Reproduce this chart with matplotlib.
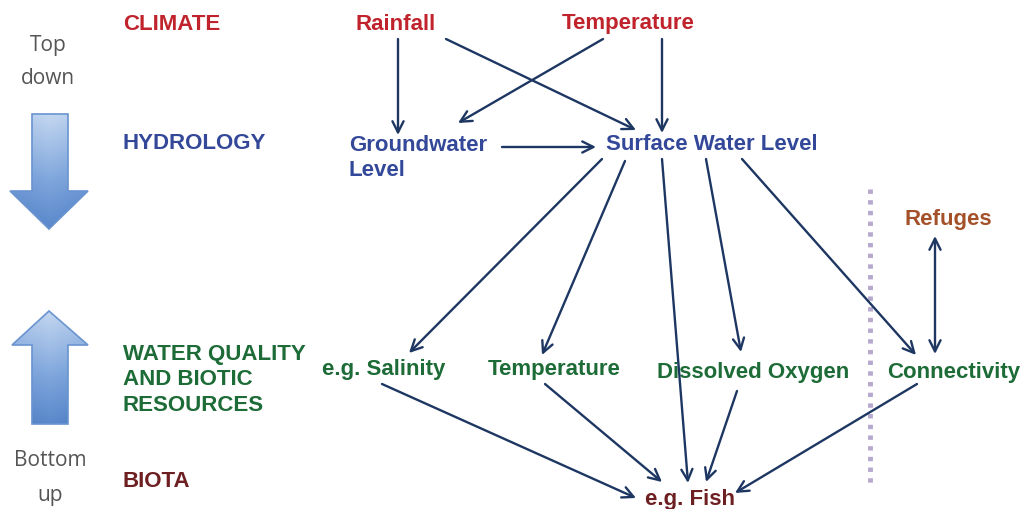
import numpy as np
import matplotlib.pyplot as plt
from matplotlib.patches import Polygon
from matplotlib.colors import LinearSegmentedColormap

# level labels (left column)
levels = ["CLIMATE", "HYDROLOGY", "WATER QUALITY\nAND BIOTIC\nRESOURCES", "BIOTA"]
level_colors = ["#C0232C", "#34489A", "#1D6B36", "#6E1F22"]

# nodes of the diagram
nodes = ["Rainfall", "Temperature", "Groundwater\nLevel", "Surface Water Level",
         "Refuges", "e.g. Salinity", "Temperature ", "Dissolved Oxygen",
         "Connectivity", "e.g. Fish"]
node_colors = ["#C0232C", "#C0232C", "#34489A", "#34489A", "#A4512A",
               "#1D6B36", "#1D6B36", "#1D6B36", "#1D6B36", "#6E1F22"]

# causal links (from, to)
edges = [("Rainfall", "Groundwater\nLevel"),
         ("Rainfall", "Surface Water Level"),
         ("Temperature", "Groundwater\nLevel"),
         ("Temperature", "Surface Water Level"),
         ("Groundwater\nLevel", "Surface Water Level"),
         ("Surface Water Level", "e.g. Salinity"),
         ("Surface Water Level", "Temperature "),
         ("Surface Water Level", "e.g. Fish"),
         ("Surface Water Level", "Dissolved Oxygen"),
         ("Surface Water Level", "Connectivity"),
         ("e.g. Salinity", "e.g. Fish"),
         ("Temperature ", "e.g. Fish"),
         ("Dissolved Oxygen", "e.g. Fish"),
         ("Connectivity", "e.g. Fish")]
two_way = [("Refuges", "Connectivity")]

# ---- layout (pixel coordinates, y down) ----
level_pos = [(123, 24), (123, 144), (123, 380), (123, 482)]
node_pos = {"Rainfall": (396, 24), "Temperature": (628, 24),
            "Groundwater\nLevel": (349, 158), "Surface Water Level": (606, 145),
            "Refuges": (948, 220), "e.g. Salinity": (384, 370),
            "Temperature ": (554, 370), "Dissolved Oxygen": (753, 373),
            "Connectivity": (954, 373), "e.g. Fish": (690, 500)}
node_ha = {"Groundwater\nLevel": "left", "Surface Water Level": "left"}
edge_pts = [((398, 40), (398, 136)), ((446, 40), (636, 131)),
            ((603, 40), (458, 124)), ((662, 40), (662, 134)),
            ((502, 148), (596, 148)), ((602, 160), (409, 354)),
            ((625, 162), (542, 356)), ((662, 160), (688, 484)),
            ((706, 160), (741, 353)), ((742, 160), (916, 356)),
            ((382, 385), (636, 499)), ((545, 385), (662, 483)),
            ((737, 392), (706, 483)), ((917, 385), (735, 494))]
two_way_pts = [((935, 237), (935, 355))]

navy = "#1D3762"
W, H = 1022, 510

fig = plt.figure(figsize=(W / 100, H / 100), dpi=100)
ax = fig.add_axes([0, 0, 1, 1])
ax.set_xlim(0, W)
ax.set_ylim(H, 0)
ax.axis("off")

bold = dict(family="Liberation Sans", fontweight="bold", fontsize=16)

for lab, col, (x, y) in zip(levels, level_colors, level_pos):
    ax.text(x, y, lab, color=col, ha="left", va="center", linespacing=1.27, **bold)

for lab, col in zip(nodes, node_colors):
    x, y = node_pos[lab]
    ax.text(x, y, lab.strip(), color=col, ha=node_ha.get(lab, "center"),
            va="center", linespacing=1.27, **bold)

for (a, b), (t, h) in zip(edges, edge_pts):
    ax.annotate("", xy=h, xytext=t,
                arrowprops=dict(arrowstyle="->", color=navy, lw=1.7,
                                mutation_scale=20, shrinkA=0, shrinkB=0))
for (a, b), (t, h) in zip(two_way, two_way_pts):
    ax.annotate("", xy=h, xytext=t,
                arrowprops=dict(arrowstyle="<->", color=navy, lw=1.7,
                                mutation_scale=20, shrinkA=0, shrinkB=0))

# divider
ax.plot([870, 870], [190, 488], color="#B7A8CE", lw=3.5,
        linestyle=(0, (0.9, 1.3)), solid_capstyle="butt")

# top-down / bottom-up labels
light = dict(family="Open Sans", fontsize=15, color="#555555", ha="center", va="center")
ax.text(48, 45, "Top", **light)
ax.text(48, 79, "down", **light)
ax.text(50, 461, "Bottom", **light)
ax.text(50, 496, "up", **light)

# gradient block arrows
cmap = LinearSegmentedColormap.from_list("blk", ["#C4D7F0", "#7FA6DC", "#4A7CC4"])


def block_arrow(pts, y0, y1):
    poly = Polygon(pts, closed=True, facecolor="none", edgecolor="#6A94D0", lw=1.2, zorder=3)
    ax.add_patch(poly)
    g = np.linspace(0, 1, 256).reshape(-1, 1)
    xs = np.linspace(-1, 1, 64)
    img = g * 0.85 + 0.15 * np.abs(xs)[None, :]
    im = ax.imshow(img, cmap=cmap, extent=(5, 95, y1, y0), aspect="auto",
                   vmin=0, vmax=1, zorder=2, origin="upper")
    im.set_clip_path(poly)


block_arrow([(32, 115), (68, 115), (68, 192), (88, 192), (49, 230),
             (10, 192), (32, 192)], 115, 230)
block_arrow([(49, 312), (88, 346), (68, 346), (68, 425), (32, 425),
             (32, 346), (12, 346)], 312, 425)

ax.set_xlim(0, W)
ax.set_ylim(H, 0)
fig.savefig("out.png", dpi=100, facecolor="white")
